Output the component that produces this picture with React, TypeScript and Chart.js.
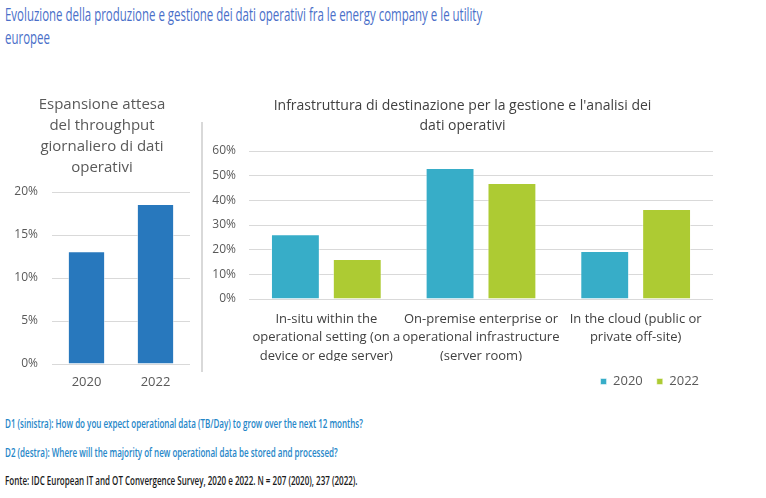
import React, { useEffect, useRef } from "react";
import { Chart, registerables } from "chart.js";

Chart.register(...registerables);

const leftCategories = ["2020", "2022"];
const leftValues = [13.1, 18.6];
const leftTicksMax = 20;

const rightCategories = [
  ["In-situ within the", "operational setting (on a", "device or edge server)"],
  ["On-premise enterprise or", "operational infrastructure", "(server room)"],
  ["In the cloud (public or", "private off-site)"],
];
const series2020 = [26.3, 53.1, 19.5];
const series2022 = [16.2, 47.0, 36.5];
const rightTicksMax = 60;

const leftTitle = ["Espansione attesa", "del throughput", "giornaliero di dati", "operativi"];
const rightTitle = ["Infrastruttura di destinazione per la gestione e l'analisi dei", "dati operativi"];

const FONT = "'Open Sans', sans-serif";

export default function App() {
  const leftRef = useRef<HTMLCanvasElement>(null);
  const rightRef = useRef<HTMLCanvasElement>(null);

  useEffect(() => {
    const left = new Chart(leftRef.current!, {
      type: "bar",
      data: {
        labels: leftCategories,
        datasets: [
          {
            label: "Espansione",
            data: leftValues,
            backgroundColor: "#2878BD",
            borderColor: "rgba(255,255,255,0.5)",
            borderWidth: 1,
            categoryPercentage: 0.54,
            barPercentage: 1,
          },
        ],
      },
      options: {
        responsive: false,
        animation: false,
        layout: { padding: { left: 6, right: 8, top: 0, bottom: 8 } },
        plugins: {
          legend: { display: false },
          tooltip: { enabled: false },
          title: {
            display: true,
            text: leftTitle,
            color: "#595959",
            font: { family: FONT, size: 15, weight: "normal", lineHeight: 1.4 },
            padding: { top: 6, bottom: 14 },
          },
        },
        scales: {
          x: {
            grid: { display: false, drawTicks: false },
            border: { display: false },
            ticks: { color: "#595959", font: { family: FONT, size: 13 }, padding: 10 },
            afterFit: (s: any) => {
              s.height = 26;
            },
          },
          y: {
            min: 0,
            max: leftTicksMax,
            grid: { color: "#d9d9d9", drawTicks: false },
            border: { display: false },
            ticks: {
              stepSize: 5,
              color: "#595959",
              font: { family: FONT, size: 12 },
              padding: 14,
              callback: (v: any) => v + "%",
            },
            afterFit: (s: any) => {
              s.width = 38;
            },
          },
        },
      },
    });

    const right = new Chart(rightRef.current!, {
      type: "bar",
      data: {
        labels: rightCategories as any,
        datasets: [
          {
            label: "2020",
            data: series2020,
            backgroundColor: "#37ADC8",
            borderColor: "rgba(255,255,255,0.5)",
            borderWidth: 1,
            categoryPercentage: 0.8,
            barPercentage: 0.79,
          },
          {
            label: "2022",
            data: series2022,
            backgroundColor: "#ADCB33",
            borderColor: "rgba(255,255,255,0.5)",
            borderWidth: 1,
            categoryPercentage: 0.8,
            barPercentage: 0.79,
          },
        ],
      },
      options: {
        responsive: false,
        animation: false,
        layout: { padding: { left: 6, right: 7, top: 0, bottom: 8 } },
        plugins: {
          tooltip: { enabled: false },
          legend: {
            display: true,
            position: "bottom",
            align: "end",
            labels: {
              boxWidth: 6,
              boxHeight: 6,
              color: "#595959",
              font: { family: FONT, size: 13 },
              padding: 14,
            },
          },
          title: {
            display: true,
            text: rightTitle,
            color: "#404040",
            font: { family: FONT, size: 14, weight: "normal", lineHeight: 1.43 },
            padding: { top: 8, bottom: 15 },
          },
        },
        scales: {
          x: {
            grid: { display: false, drawTicks: false },
            border: { display: false },
            ticks: {
              color: "#404040",
              font: { family: FONT, size: 13, lineHeight: 1.41 },
              padding: 11,
              maxRotation: 0,
              autoSkip: false,
            },
            afterFit: (s: any) => {
              s.height = 62;
            },
          },
          y: {
            min: 0,
            max: rightTicksMax,
            grid: { color: "#d9d9d9", drawTicks: false },
            border: { display: false },
            ticks: {
              stepSize: 10,
              color: "#595959",
              font: { family: FONT, size: 12 },
              padding: 13,
              callback: (v: any) => v + "%",
            },
            afterFit: (s: any) => {
              s.width = 37;
            },
          },
        },
      },
    });

    return () => {
      left.destroy();
      right.destroy();
    };
  }, []);

  const squish = (sx: number): React.CSSProperties => ({
    position: "absolute",
    whiteSpace: "nowrap",
    transform: `scaleX(${sx})`,
    transformOrigin: "left top",
    fontFamily: FONT,
  });

  return (
    <div
      style={{
        position: "absolute",
        left: 0,
        top: 0,
        width: 766,
        height: 498,
        background: "#ffffff",
        overflow: "hidden",
      }}
    >
      <div
        style={{
          ...squish(0.637),
          left: 5,
          top: 3,
          fontSize: 18,
          fontWeight: 400,
          lineHeight: "23px",
          color: "#4A6FC9",
        }}
      >
        Evoluzione della produzione e gestione dei dati operativi fra le energy company e le utility
        <br />
        europee
      </div>
      <canvas
        ref={leftRef}
        width={190}
        height={310}
        style={{ position: "absolute", left: 8, top: 88, width: 190, height: 310 }}
      />
      <div
        style={{ position: "absolute", left: 201, top: 122, width: 2, height: 250, background: "#d9d9d9" }}
      />
      <canvas
        ref={rightRef}
        width={514}
        height={318}
        style={{ position: "absolute", left: 206, top: 88, width: 514, height: 318 }}
      />
      <div style={{ ...squish(0.617), left: 5, top: 414, fontSize: 13, fontWeight: 600, lineHeight: "18px", color: "#2586C8" }}>
        D1 (sinistra): How do you expect operational data (TB/Day) to grow over the next 12 months?
      </div>
      <div style={{ ...squish(0.617), left: 5, top: 443, fontSize: 13, fontWeight: 600, lineHeight: "18px", color: "#2586C8" }}>
        D2 (destra): Where will the majority of new operational data be stored and processed?
      </div>
      <div style={{ ...squish(0.617), left: 5, top: 471, fontSize: 13, fontWeight: 600, lineHeight: "18px", color: "#1a1a1a" }}>
        Fonte: IDC European IT and OT Convergence Survey, 2020 e 2022. N = 207 (2020), 237 (2022).
      </div>
    </div>
  );
}
